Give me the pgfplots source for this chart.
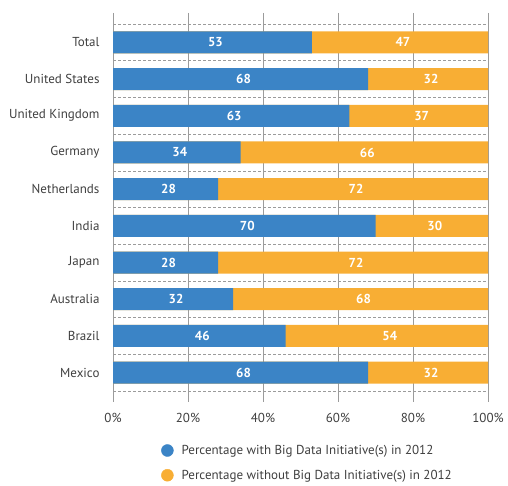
\documentclass[border=0pt]{standalone}
\usepackage{pgfplots}
\pgfplotsset{compat=1.18}
\usepackage{pgfplotstable}
\usepackage{fontspec}
\setmainfont{PT Sans}

\definecolor{cblue}{HTML}{3B84C6}
\definecolor{corange}{HTML}{F8AE34}
\definecolor{ctext}{HTML}{3F3F3F}
\definecolor{cgrid}{HTML}{9B9B9B}

\pgfplotstableread[col sep=comma]{
name,with,without
Total,53,47
United States,68,32
United Kingdom,63,37
Germany,34,66
Netherlands,28,72
India,70,30
Japan,28,72
Australia,32,68
Brazil,46,54
Mexico,68,32
}\data

\begin{document}
\begin{tikzpicture}
  \useasboundingbox (0,0) rectangle (508pt,485pt);
  \begin{axis}[
      at={(113pt,83pt)}, anchor=south west,
      scale only axis,
      width=375pt, height=389pt,
      xmin=0, xmax=100,
      ymin=-0.8, ymax=9.8,
      y dir=reverse,
      xtick={0,20,...,100},
      xticklabels={0\%,20\%,40\%,60\%,80\%,100\%},
      ytick={0,...,9},
      yticklabels from table={\data}{name},
      minor ytick={-0.5,0.5,...,9.5},
      xmajorgrids, yminorgrids,
      major grid style={cgrid, line width=0.6pt},
      minor grid style={cgrid, dash pattern=on 3pt off 2pt, line width=0.5pt},
      axis line style={draw=none},
      major tick length=0pt, minor tick length=0pt,
      tick label style={font=\fontsize{13}{15}\selectfont, text=ctext},
      xticklabel style={yshift=-8pt},
      yticklabel style={xshift=-10pt},
      clip=false,
      legend style={at={(0.12,-0.1)}, anchor=north west, draw=none, fill=none,
        font=\fontsize{13}{15}\selectfont, text=ctext, row sep=10pt, column sep=6pt},
      legend cell align=left,
    ]
    % orange = full bar behind, blue on top
    \addplot[xbar, bar width=22pt, bar shift=0pt, fill=corange, draw=none, forget plot]
      table[x expr=\thisrow{with}+\thisrow{without}, y expr=\coordindex] {\data};
    \addplot[xbar, bar width=22pt, bar shift=0pt, fill=cblue, draw=none, forget plot]
      table[x=with, y expr=\coordindex] {\data};
    % value labels
    \addplot[only marks, mark=none, forget plot, nodes near coords, point meta=explicit symbolic,
      every node near coord/.style={anchor=center, xshift=3pt, text=white,
        font=\fontsize{13}{15}\selectfont\bfseries}]
      table[x expr=\thisrow{with}/2, y expr=\coordindex, meta=with] {\data};
    \addplot[only marks, mark=none, forget plot, nodes near coords, point meta=explicit symbolic,
      every node near coord/.style={anchor=center, xshift=3pt, text=white,
        font=\fontsize{13}{15}\selectfont\bfseries}]
      table[x expr=\thisrow{with}+\thisrow{without}/2, y expr=\coordindex, meta=without] {\data};
    \addlegendimage{legend image code/.code={\fill[cblue] (0pt,0pt) circle (6pt);}}
    \addlegendentry{Percentage with Big Data Initiative(s) in 2012}
    \addlegendimage{legend image code/.code={\fill[corange] (0pt,0pt) circle (6pt);}}
    \addlegendentry{Percentage without Big Data Initiative(s) in 2012}
  \end{axis}
\end{tikzpicture}
\end{document}
